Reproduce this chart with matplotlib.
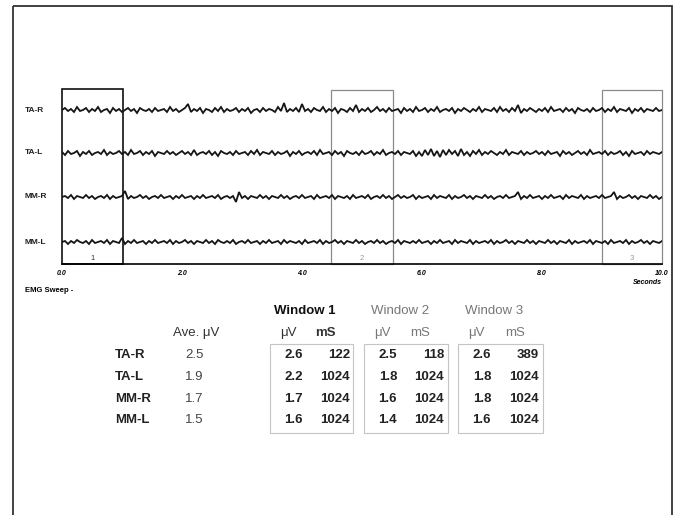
import numpy as np
import matplotlib
matplotlib.use("Agg")
import matplotlib.pyplot as plt
from matplotlib.patches import Rectangle

plt.rcParams["font.family"] = ["Liberation Sans", "DejaVu Sans"]

# EMG sweep, 10 s, one sample every 0.05 s (values in display units)
CHANNELS = ["TA-R", "TA-L", "MM-R", "MM-L"]

TA_R = [
    0, 2, -1, 1, -2, 3, -1, 0, 2, -2, 1, -1, 3, -2, 0, 1, -3, 2, -1, 1,
    -2, 0, 2, -1, 1, -3, 2, 0, -1, 1, -2, 2, -1, 0, 1, -2, 3, -1, 1, -2,
    0, 2, 6, -2, 1, -1, 2, -3, 1, 0, -2, 2, -1, 3, -2, 1, -1, 0, 2, -2,
    1, -1, 2, -3, 0, 1, -2, 2, -1, 1, 0, -2, 3, -1, 7, -2, 1, -1, 2, -2,
    6, -1, 1, -2, 2, 0, -1, 3, -2, 1, -1, 2, -3, 1, 0, -2, 2, -1, 5, -2,
    1, -1, 2, -2, 0, 3, -1, 1, -2, 2, -1, 0, 1, -3, 2, -1, 1, -2, 3, -1,
    0, 2, -2, 1, -1, 3, -2, 0, 1, -1, 2, -3, 1, -1, 2, 0, -2, 1, -1, 3,
    -2, 1, 0, -1, 2, -2, 3, -1, 1, -2, 2, -1, 5, -3, 1, -1, 2, 0, -2, 1,
    -1, 2, -2, 3, -1, 0, 1, -2, 2, -1, 1, -3, 2, 0, -1, 1, -2, 2, -1, 0,
    2, -2, 1, -1, 3, -2, 1, 0, -1, 2, -3, 1, -1, 2, -2, 1, 0, -1, 2, -1,
    0,
]
TA_L = [
    1, -2, 2, -1, 0, 2, -3, 1, -1, 2, -2, 0, 1, -1, 3, -2, 1, -1, 0, 2,
    -1, 1, -2, 3, -1, 0, 2, -2, 1, -1, 2, -3, 1, 0, -1, 2, -1, 1, -2, 0,
    2, -1, 1, -2, 3, -2, 0, 1, -1, 2, -2, 1, -3, 2, 0, -1, 1, -2, 2, -1,
    0, 1, -2, 2, -1, 3, -2, 1, 0, -1, 2, -2, 1, -1, 0, 2, -3, 1, -1, 2,
    -2, 0, 1, -1, 2, -2, 3, -1, 0, 1, -2, 2, -1, 1, -3, 2, 0, -1, 1, -2,
    2, -1, 0, 2, -2, 1, -1, 3, -2, 0, 1, -1, 2, -2, 1, 0, -1, 2, -3, 1,
    -3, 3, -2, 4, -3, 2, -4, 3, -2, 3, -1, 2, -3, 4, -2, 1, -3, 2, -1, 3,
    -2, 1, -1, 2, 0, -2, 1, -1, 3, -2, 1, 0, -1, 2, -2, 1, -1, 0, 2, -1,
    1, -2, 2, -1, 0, 1, -3, 2, -1, 1, -2, 0, 2, -1, 1, -2, 3, -1, 0, 1,
    -1, 2, -2, 1, -1, 0, 2, -2, 1, -3, 2, -1, 0, 1, -2, 2, -1, 1, 0, -1,
    1,
]
MM_R = [
    0, 1, -1, 2, -2, 1, 0, -1, 2, -1, 1, -2, 0, 1, -1, 2, -2, 1, -1, 0,
    1, 6, -2, 1, -1, 0, 2, -1, 1, -2, 0, 1, -1, 2, -1, 0, 1, -2, 1, -1,
    2, -1, 0, 1, -2, 1, -1, 2, -1, 0, 1, -1, 2, -2, 0, 1, -1, 1, -5, 5,
    -1, 1, -2, 1, 0, -1, 2, -1, 1, -2, 1, 0, -1, 2, -1, 1, -2, 0, 1, -1,
    2, -1, 0, 1, -2, 2, -1, 0, 1, -1, 2, -2, 1, 0, -1, 1, -2, 2, -1, 0,
    1, -1, 2, -2, 0, 1, -1, 2, -1, 1, -2, 0, 2, -1, 1, -1, 0, 2, -2, 1,
    -1, 0, 1, -2, 2, -1, 1, 0, -1, 2, -2, 1, -1, 0, 2, -1, 1, -2, 1, 0,
    -1, 2, -1, 1, -2, 0, 1, -1, 2, -1, 0, 1, 5, -2, 1, -1, 2, -1, 0, 1,
    -2, 1, -1, 2, -1, 0, 1, -2, 2, -1, 1, 0, -1, 2, -2, 1, -1, 0, 1, -1,
    2, -1, 0, 1, 5, -2, 1, -1, 0, 2, -1, 1, -2, 1, 0, -1, 2, -1, 1, -2,
    0,
]
MM_L = [
    0, 1, -2, 1, -1, 2, 0, -1, 1, -2, 2, -1, 0, 1, -1, 2, -2, 1, 0, -1,
    4, -2, 1, -1, 2, -1, 0, 1, -2, 1, -1, 2, -1, 0, 1, -1, 2, -2, 1, -1,
    0, 2, -1, 1, -2, 1, 0, -1, 2, -1, 1, -2, 2, 0, -1, 1, -1, 2, -2, 0,
    1, -1, 2, -1, 0, 1, -2, 1, -1, 2, -1, 0, 1, -2, 2, -1, 1, 0, -1, 1,
    -2, 2, -1, 0, 1, -1, 2, -2, 1, -1, 0, 2, -1, 1, -2, 1, 0, -1, 2, -1,
    1, -2, 0, 1, -1, 2, -1, 1, -2, 0, 1, -1, 2, -2, 1, 0, -1, 1, -1, 2,
    -1, 0, 1, -2, 1, -1, 2, -1, 0, 1, -2, 2, -1, 1, 0, -1, 2, -2, 1, -1,
    0, 1, -1, 2, -2, 1, -1, 0, 2, -1, 1, -2, 1, 0, -1, 2, -1, 1, -2, 1,
    0, -1, 2, -1, 1, -2, 1, 0, -1, 2, -2, 1, -1, 0, 1, -1, 2, -2, 1, 0,
    -1, 1, -2, 2, -1, 0, 1, -1, 2, -2, 1, -1, 0, 2, -1, 1, -2, 1, 0, -1,
    1,
]
TRACES = [TA_R, TA_L, MM_R, MM_L]

# analysis windows (seconds)
WIN_LABELS = ["1", "2", "3"]
WIN_START = [0.0, 4.48, 9.0]
WIN_END = [1.02, 5.52, 10.0]

XTICKS = [0.0, 2.0, 4.0, 6.0, 8.0, 10.0]

# table values
AVE_UV = ["2.5", "1.9", "1.7", "1.5"]
WIN_UV = [
    ["2.6", "2.2", "1.7", "1.6"],
    ["2.5", "1.8", "1.6", "1.4"],
    ["2.6", "1.8", "1.8", "1.6"],
]
WIN_MS = [
    ["122", "1024", "1024", "1024"],
    ["118", "1024", "1024", "1024"],
    ["389", "1024", "1024", "1024"],
]

W, H = 676, 515
fig = plt.figure(figsize=(W / 100, H / 100), dpi=100)

# background layer in pixel coordinates (frame + table)
bg = fig.add_axes([0, 0, 1, 1])
bg.set_xlim(0, W)
bg.set_ylim(H, 0)
bg.axis("off")
bg.add_patch(Rectangle((13, 6), 659, 520, fill=False, edgecolor="#333333",
                       linewidth=1.3, clip_on=False))

# ---- EMG traces ----
base_px, top_px = 264, 86
ax = fig.add_axes([62 / W, (H - base_px) / H, 600 / W, (base_px - top_px) / H])
ax.set_xlim(0, 10)
ax.set_ylim(0, base_px - top_px)
ax.patch.set_alpha(0)
for s in ["top", "left", "right"]:
    ax.spines[s].set_visible(False)
ax.spines["bottom"].set_linewidth(1.2)
ax.set_yticks([])
ax.set_xticks(XTICKS)
ax.set_xticklabels([f"{t:.1f}" for t in XTICKS], fontsize=5,
                   fontweight="bold", fontstyle="italic")
ax.tick_params(axis="x", length=0, pad=4)

offsets = [154, 111, 67, 22]
for name, trace, off in zip(CHANNELS, TRACES, offsets):
    t = np.linspace(0, 10, len(trace))
    ax.plot(t, off + np.array(trace), color="#151515", linewidth=1.3,
            solid_joinstyle="miter")
    ax.text(-0.62, off, name, fontsize=6, fontweight="bold",
            ha="left", va="center", clip_on=False, color="#222222")

for i, (lab, a, b) in enumerate(zip(WIN_LABELS, WIN_START, WIN_END)):
    col = "#111111" if i == 0 else "#8a8a8a"
    lw = 1.2 if i == 0 else 0.9
    top = 175 if i == 0 else 174
    ax.add_patch(Rectangle((a, 0), b - a, top, fill=False, edgecolor=col,
                           linewidth=lw, clip_on=False))
    ax.text((a + b) / 2, 6, lab, fontsize=5.5, color="#333333" if i == 0 else "#999999",
            ha="center", va="center")

ax.text(10, -18, "Seconds", fontsize=5, fontweight="bold", fontstyle="italic",
        ha="right", va="center", clip_on=False)
bg.text(25, 291, "EMG Sweep -", fontsize=5.5, fontweight="bold",
        ha="left", va="center")

# ---- table ----
fs = 9.5
row_y = [355, 377, 399, 420]
head_x = [305, 400, 494]
uv_head_x = [288, 382, 476]
ms_head_x = [325, 420, 515]
uv_right = [303, 397, 491]
ms_right = [350, 444, 539]
box_x = [(270, 353), (364, 448), (458, 543)]

bg.text(196, 333, "Ave. μV", fontsize=fs, ha="center", va="center", color="#333333")
for w in range(3):
    hdr_col = "#111111" if w == 0 else "#777777"
    hdr_wt = "bold" if w == 0 else "normal"
    bg.text(head_x[w], 311, f"Window {w + 1}", fontsize=fs, ha="center",
            va="center", color=hdr_col, fontweight=hdr_wt)
    bg.text(uv_head_x[w], 333, "μV", fontsize=fs, ha="center", va="center",
            color=hdr_col if w else "#333333")
    bg.text(ms_head_x[w], 333, "mS", fontsize=fs, ha="center", va="center",
            color=hdr_col if w else "#333333", fontweight=hdr_wt)
    x0, x1 = box_x[w]
    bg.add_patch(Rectangle((x0, 344), x1 - x0, 89, fill=False,
                           edgecolor="#c4c4c4", linewidth=0.8))
    for r, y in enumerate(row_y):
        bg.text(uv_right[w], y, WIN_UV[w][r], fontsize=fs, ha="right",
                va="center", fontweight="bold", color="#222222")
        bg.text(ms_right[w], y, WIN_MS[w][r], fontsize=fs, ha="right",
                va="center", fontweight="bold", color="#222222")

for r, y in enumerate(row_y):
    bg.text(115, y, CHANNELS[r], fontsize=fs, ha="left", va="center",
            fontweight="bold", color="#222222")
    bg.text(185, y, AVE_UV[r], fontsize=fs, ha="left", va="center",
            color="#444444")

fig.savefig("out.png", dpi=100)
